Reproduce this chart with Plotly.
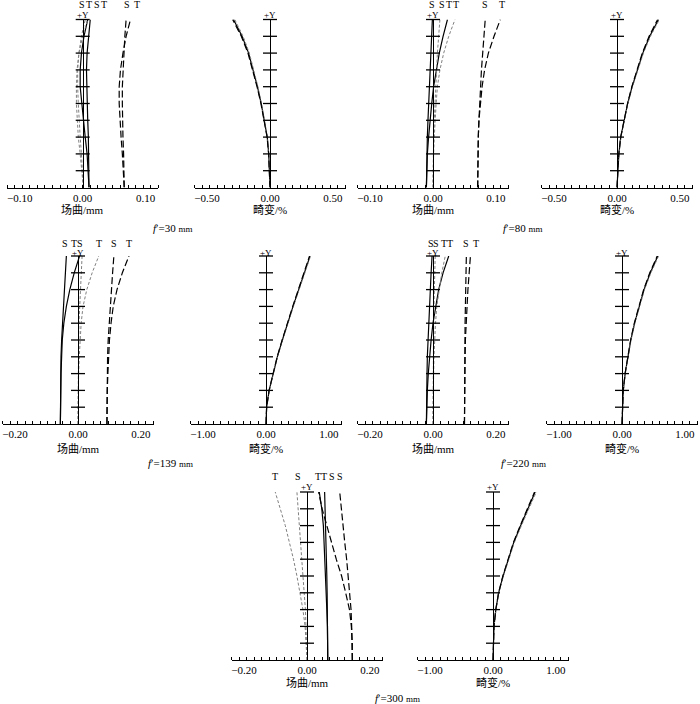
import plotly.graph_objects as go

# ---------------- data ----------------
field = [0.0, 0.1, 0.2, 0.3, 0.4, 0.5, 0.6, 0.7, 0.8, 0.9, 1.0]
field_ticks = [0.1, 0.2, 0.3, 0.4, 0.5, 0.6, 0.7, 0.8, 0.9, 1.0]

# field curvature (mm): three wavelengths (solid black, grey dashed, black long-dashed), S and T
fc30_solid_S = [0.010, 0.010, 0.010, 0.009, 0.008, 0.007, 0.006, 0.006, 0.007, 0.009, 0.012]
fc30_solid_T = [0.010, 0.009, 0.007, 0.004, 0.001, -0.002, -0.004, -0.004, -0.002, 0.002, 0.008]
fc30_grey_S = [0.001, 0.000, -0.002, -0.004, -0.006, -0.007, -0.008, -0.008, -0.006, -0.002, 0.004]
fc30_grey_T = [0.001, -0.001, -0.004, -0.007, -0.009, -0.010, -0.010, -0.009, -0.006, 0.000, 0.008]
fc30_black_S = [0.066, 0.066, 0.065, 0.064, 0.063, 0.063, 0.063, 0.064, 0.065, 0.067, 0.069]
fc30_black_T = [0.066, 0.065, 0.063, 0.061, 0.059, 0.058, 0.058, 0.060, 0.064, 0.069, 0.076]

fc80_solid_S = [-0.0105, -0.0104, -0.010, -0.009, -0.008, -0.007, -0.006, -0.005, -0.004, -0.003, -0.001]
fc80_solid_T = [-0.0105, -0.010, -0.009, -0.007, -0.005, -0.002, 0.001, 0.005, 0.010, 0.016, 0.023]
fc80_grey_S = [0.000, 0.000, 0.001, 0.001, 0.002, 0.003, 0.004, 0.005, 0.007, 0.009, 0.011]
fc80_grey_T = [0.000, 0.000, 0.001, 0.002, 0.003, 0.005, 0.007, 0.011, 0.017, 0.025, 0.035]
fc80_black_S = [0.071, 0.071, 0.071, 0.072, 0.073, 0.074, 0.075, 0.077, 0.079, 0.081, 0.083]
fc80_black_T = [0.071, 0.071, 0.071, 0.072, 0.073, 0.075, 0.078, 0.082, 0.088, 0.097, 0.107]

fc139_solid_S = [-0.056, -0.056, -0.056, -0.055, -0.054, -0.052, -0.050, -0.046, -0.043, -0.040, -0.037]
fc139_solid_T = [-0.056, -0.056, -0.055, -0.054, -0.052, -0.050, -0.045, -0.037, -0.026, -0.012, 0.005]
fc139_grey_S = [0.000, 0.000, 0.000, 0.001, 0.001, 0.002, 0.003, 0.005, 0.007, 0.010, 0.013]
fc139_grey_T = [0.000, 0.000, 0.001, 0.002, 0.004, 0.006, 0.010, 0.016, 0.028, 0.045, 0.066]
fc139_black_S = [0.092, 0.092, 0.092, 0.093, 0.094, 0.096, 0.099, 0.102, 0.106, 0.110, 0.114]
fc139_black_T = [0.092, 0.092, 0.093, 0.095, 0.097, 0.100, 0.105, 0.112, 0.124, 0.141, 0.162]

fc220_solid_S = [-0.021, -0.021, -0.020, -0.019, -0.018, -0.016, -0.014, -0.012, -0.009, -0.006, -0.003]
fc220_solid_T = [-0.021, -0.020, -0.018, -0.015, -0.011, -0.006, 0.000, 0.008, 0.018, 0.032, 0.050]
fc220_grey_S = [0.000, 0.000, 0.000, 0.000, 0.001, 0.001, 0.002, 0.003, 0.004, 0.005, 0.007]
fc220_grey_T = [0.000, 0.000, 0.001, 0.002, 0.003, 0.005, 0.008, 0.012, 0.019, 0.028, 0.039]
fc220_black_S = [0.100, 0.100, 0.100, 0.100, 0.101, 0.101, 0.102, 0.103, 0.104, 0.105, 0.106]
fc220_black_T = [0.100, 0.100, 0.100, 0.101, 0.102, 0.103, 0.105, 0.108, 0.111, 0.115, 0.119]

fc300_solid_S = [0.066, 0.066, 0.065, 0.065, 0.064, 0.063, 0.062, 0.061, 0.059, 0.058, 0.056]
fc300_solid_T = [0.066, 0.066, 0.065, 0.063, 0.061, 0.059, 0.057, 0.055, 0.052, 0.047, 0.039]
fc300_grey_S = [0.000, -0.001, -0.002, -0.005, -0.009, -0.013, -0.017, -0.021, -0.025, -0.028, -0.032]
fc300_grey_T = [0.000, -0.002, -0.006, -0.013, -0.022, -0.032, -0.043, -0.055, -0.069, -0.085, -0.101]
fc300_black_S = [0.144, 0.144, 0.142, 0.140, 0.136, 0.131, 0.126, 0.120, 0.115, 0.110, 0.104]
fc300_black_T = [0.144, 0.144, 0.141, 0.135, 0.123, 0.110, 0.093, 0.078, 0.062, 0.048, 0.037]

# distortion (%)
d30_solid = [0.0, -0.003, -0.010, -0.022, -0.045, -0.070, -0.100, -0.132, -0.170, -0.222, -0.290]
d30_grey = [0.0, -0.003, -0.010, -0.021, -0.043, -0.067, -0.096, -0.127, -0.164, -0.214, -0.280]
d30_black = [0.0, -0.003, -0.011, -0.023, -0.046, -0.072, -0.103, -0.136, -0.175, -0.228, -0.297]

d80_solid = [0.0, 0.005, 0.015, 0.030, 0.055, 0.085, 0.120, 0.160, 0.205, 0.260, 0.330]
d80_grey = [0.0, 0.005, 0.015, 0.031, 0.056, 0.087, 0.123, 0.164, 0.210, 0.266, 0.337]
d80_black = [0.0, 0.005, 0.014, 0.029, 0.054, 0.084, 0.118, 0.157, 0.201, 0.255, 0.323]

d139_solid = [0.0, 0.010, 0.050, 0.110, 0.180, 0.260, 0.340, 0.430, 0.520, 0.610, 0.700]
d139_grey = [0.0, 0.010, 0.051, 0.112, 0.183, 0.264, 0.345, 0.436, 0.527, 0.618, 0.708]
d139_black = [0.0, 0.010, 0.049, 0.109, 0.178, 0.257, 0.336, 0.425, 0.514, 0.603, 0.692]

d220_solid = [0.0, 0.005, 0.020, 0.050, 0.090, 0.140, 0.200, 0.270, 0.350, 0.450, 0.570]
d220_grey = [0.0, 0.005, 0.021, 0.052, 0.093, 0.144, 0.205, 0.277, 0.358, 0.460, 0.582]
d220_black = [0.0, 0.005, 0.020, 0.049, 0.088, 0.137, 0.196, 0.265, 0.344, 0.442, 0.560]

d300_solid = [0.0, 0.003, 0.016, 0.045, 0.090, 0.160, 0.240, 0.330, 0.440, 0.550, 0.670]
d300_grey = [0.0, 0.003, 0.017, 0.047, 0.093, 0.165, 0.247, 0.340, 0.452, 0.565, 0.688]
d300_black = [0.0, 0.003, 0.016, 0.044, 0.088, 0.157, 0.236, 0.325, 0.433, 0.542, 0.660]

focal_lengths = ["30", "80", "139", "220", "300"]
fc_tick_labels_01 = ["\u22120.10", "0.00", "0.10"]
fc_tick_labels_02 = ["\u22120.20", "0.00", "0.20"]
d_tick_labels_05 = ["\u22120.50", "0.00", "0.50"]
d_tick_labels_10 = ["\u22121.00", "0.00", "1.00"]
fc_title = "场曲/mm"
d_title = "畸变/%"

# ---------------- styling / layout ----------------
W, H = 700, 704
FONT = "Liberation Serif, Noto Sans CJK SC, serif"
HALF_PX = 75.5
STYLE = {
    "solid": dict(color="black", width=1.2, dash="solid"),
    "grey": dict(color="#808080", width=1.0, dash="3px,2px"),
    "black": dict(color="black", width=1.2, dash="7px,3px"),
}

def px_x(p):
    return p / W

def px_y(p):
    return 1 - p / H

rows = {
    1: dict(base=187.5, top=19.5, lab=5, plusy=14.5, title=209, cap=228),
    2: dict(base=424.0, top=256.0, lab=243, plusy=252.5, title=448, cap=463),
    3: dict(base=660.0, top=492.0, lab=476, plusy=486.5, title=682, cap=698),
}

panels = [
    dict(kind="fc", row=1, zero=82.7, R=0.12, L=0.10, ticks=fc_tick_labels_01,
         curves=[("solid", fc30_solid_S), ("solid", fc30_solid_T), ("grey", fc30_grey_S),
                 ("grey", fc30_grey_T), ("black", fc30_black_S), ("black", fc30_black_T)],
         labels=[("S", -0.001), ("T", 0.010), ("S", 0.023), ("T", 0.034), ("S", 0.071), ("T", 0.086)]),
    dict(kind="d", row=1, zero=270.0, R=0.6, L=0.5, ticks=d_tick_labels_05,
         curves=[("solid", d30_solid), ("grey", d30_grey), ("black", d30_black)]),
    dict(kind="fc", row=1, zero=433.0, R=0.12, L=0.10, ticks=fc_tick_labels_01,
         curves=[("solid", fc80_solid_S), ("solid", fc80_solid_T), ("grey", fc80_grey_S),
                 ("grey", fc80_grey_T), ("black", fc80_black_S), ("black", fc80_black_T)],
         labels=[("S", -0.0016), ("S", 0.0143), ("T", 0.025), ("T", 0.037), ("S", 0.083), ("T", 0.110)]),
    dict(kind="d", row=1, zero=617.0, R=0.6, L=0.5, ticks=d_tick_labels_05,
         curves=[("solid", d80_solid), ("grey", d80_grey), ("black", d80_black)]),
    dict(kind="fc", row=2, zero=78.0, R=0.24, L=0.20, ticks=fc_tick_labels_02,
         curves=[("solid", fc139_solid_S), ("solid", fc139_solid_T), ("grey", fc139_grey_S),
                 ("grey", fc139_grey_T), ("black", fc139_black_S), ("black", fc139_black_T)],
         labels=[("S", -0.040), ("T", -0.012), ("S", 0.005), ("T", 0.066), ("S", 0.113), ("T", 0.161)]),
    dict(kind="d", row=2, zero=266.0, R=1.2, L=1.0, ticks=d_tick_labels_10,
         curves=[("solid", d139_solid), ("grey", d139_grey), ("black", d139_black)]),
    dict(kind="fc", row=2, zero=433.0, R=0.24, L=0.20, ticks=fc_tick_labels_02,
         curves=[("solid", fc220_solid_S), ("solid", fc220_solid_T), ("grey", fc220_grey_S),
                 ("grey", fc220_grey_T), ("black", fc220_black_S), ("black", fc220_black_T)],
         labels=[("S", -0.005), ("S", 0.011), ("T", 0.034), ("T", 0.053), ("S", 0.106), ("T", 0.138)]),
    dict(kind="d", row=2, zero=622.0, R=1.2, L=1.0, ticks=d_tick_labels_10,
         curves=[("solid", d220_solid), ("grey", d220_grey), ("black", d220_black)]),
    dict(kind="fc", row=3, zero=307.0, R=0.24, L=0.20, ticks=fc_tick_labels_02,
         curves=[("solid", fc300_solid_S), ("solid", fc300_solid_T), ("grey", fc300_grey_S),
                 ("grey", fc300_grey_T), ("black", fc300_black_S), ("black", fc300_black_T)],
         labels=[("T", -0.101), ("S", -0.030), ("T", 0.036), ("T", 0.054), ("S", 0.080), ("S", 0.105)]),
    dict(kind="d", row=3, zero=493.0, R=1.2, L=1.0, ticks=d_tick_labels_10,
         curves=[("solid", d300_solid), ("grey", d300_grey), ("black", d300_black)]),
]

captions = [(172, 1), (522, 1), (170, 2), (523, 2), (397, 3)]

fig = go.Figure()
layout = dict(
    width=W, height=H, margin=dict(l=0, r=0, t=0, b=0),
    paper_bgcolor="white", plot_bgcolor="white", showlegend=False,
    font=dict(family=FONT, color="black", size=11),
)
annotations = []

for i, p in enumerate(panels, start=1):
    sfx = "" if i == 1 else str(i)
    xa, ya = "x" + sfx, "y" + sfx
    r = rows[p["row"]]
    layout["xaxis" + sfx] = dict(
        domain=[px_x(p["zero"] - HALF_PX), px_x(p["zero"] + HALF_PX)],
        range=[-p["R"], p["R"]], anchor=ya, showline=True, linecolor="black", linewidth=1,
        showgrid=False, zeroline=False, ticks="", tickmode="array",
        tickvals=[-p["L"], 0, p["L"]], ticktext=p["ticks"],
        tickfont=dict(size=11, family=FONT),
        minor=dict(ticks="inside", ticklen=3, tickwidth=1, tickcolor="black",
                   tickmode="linear", tick0=-p["R"], dtick=p["R"] / 10, showgrid=False),
        fixedrange=True,
    )
    layout["yaxis" + sfx] = dict(
        domain=[px_y(r["base"]), px_y(r["top"])], range=[0, 1], anchor="free",
        position=px_x(p["zero"]), showline=True, linecolor="black", linewidth=1.3,
        showgrid=False, zeroline=False, ticks="", showticklabels=False, fixedrange=True,
    )
    for style, vals in p["curves"]:
        fig.add_trace(go.Scatter(x=vals, y=field, mode="lines", line=STYLE[style],
                                 xaxis=xa, yaxis=ya, hoverinfo="skip"))
    # cross ticks on the field (Y) axis
    fig.add_trace(go.Scatter(x=[0] * len(field_ticks), y=field_ticks, mode="markers",
                             marker=dict(symbol="line-ew", size=10,
                                         line=dict(color="black", width=1.3)),
                             cliponaxis=False, xaxis=xa, yaxis=ya, hoverinfo="skip"))
    annotations.append(dict(text="+Y", x=0, xref=xa, y=px_y(r["plusy"]), yref="paper",
                            showarrow=False, font=dict(size=9), xanchor="center", yanchor="middle"))
    annotations.append(dict(text=fc_title if p["kind"] == "fc" else d_title, x=0, xref=xa,
                            y=px_y(r["title"]), yref="paper", showarrow=False,
                            font=dict(size=11), xanchor="center", yanchor="middle"))
    for txt, xv in p.get("labels", []):
        annotations.append(dict(text=txt, x=xv, xref=xa, y=px_y(r["lab"]), yref="paper",
                                showarrow=False, font=dict(size=10),
                                xanchor="center", yanchor="middle"))

for fl, (cx, row) in zip(focal_lengths, captions):
    annotations.append(dict(
        text="<i>f</i>\u2032=" + fl + " <span style='font-size:9px'>mm</span>",
        x=px_x(cx), xref="paper", y=px_y(rows[row]["cap"]), yref="paper",
        showarrow=False, font=dict(size=11), xanchor="center", yanchor="middle"))

layout["annotations"] = annotations
fig.update_layout(**layout)
fig.write_html("out.html", config={"displayModeBar": False},
               post_script="document.body.style.margin='0';document.body.style.overflow='hidden';")
